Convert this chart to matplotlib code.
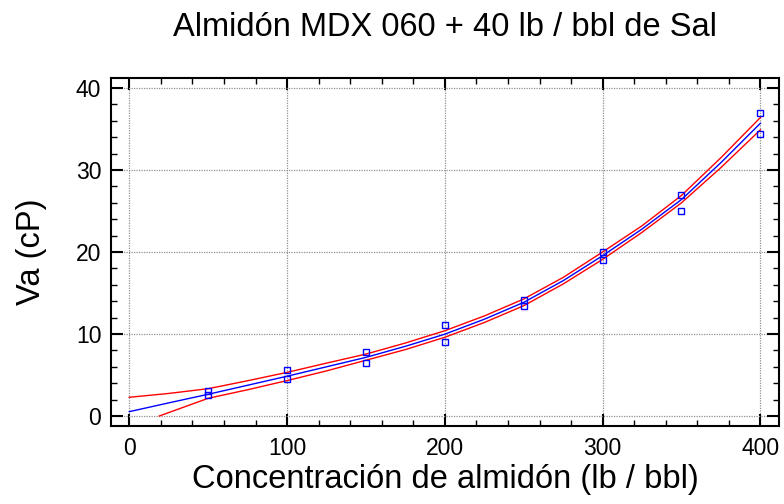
import numpy as np
import matplotlib.pyplot as plt
from matplotlib.ticker import MultipleLocator

plt.rcParams['font.family'] = ['Liberation Sans', 'DejaVu Sans']

# Measured apparent viscosity vs starch concentration
conc = [50, 50, 100, 100, 150, 150, 200, 200, 250, 250, 300, 300, 350, 350, 400, 400]
va = [3.1, 2.5, 5.6, 4.55, 7.85, 6.45, 11.05, 9.0, 14.2, 13.45, 20.0, 19.0, 27.0, 24.95, 37.0, 34.45]

# Fitted model and confidence limits
fit_x = [0, 25, 50, 75, 100, 125, 150, 175, 200, 225, 250, 275, 300, 325, 350, 375, 400]
fit_y = [0.53, 1.6, 2.65, 3.75, 4.85, 6.0, 7.15, 8.5, 9.98, 11.8, 13.86, 16.5, 19.55, 22.8, 26.4, 30.9, 35.7]
upper_y = [2.28, 2.75, 3.33, 4.3, 5.32, 6.45, 7.55, 8.9, 10.4, 12.2, 14.27, 16.9, 20.0, 23.2, 26.9, 31.5, 36.4]
lower_x = [19, 50, 75, 100, 125, 150, 175, 200, 225, 250, 275, 300, 325, 350, 375, 400]
lower_y = [0.0, 2.16, 3.2, 4.32, 5.5, 6.8, 8.1, 9.6, 11.4, 13.45, 16.1, 19.1, 22.4, 26.0, 30.3, 34.9]

fig = plt.figure(figsize=(7.84, 5.04), dpi=100)
ax = fig.add_axes([111 / 784, 1 - 426 / 504, 668 / 784, 348 / 504])

ax.plot(fit_x, upper_y, color='#ff0000', lw=1.0)
ax.plot(lower_x, lower_y, color='#ff0000', lw=1.0)
ax.plot(fit_x, fit_y, color='#0000ff', lw=1.0)
ax.plot(conc, va, linestyle='none', marker='s', ms=4, mfc='none', mec='#0000ff', mew=1.0)

ax.set_xlim(-11.6, 411.8)
ax.set_ylim(-1.22, 41.22)
ax.xaxis.set_major_locator(MultipleLocator(100))
ax.xaxis.set_minor_locator(MultipleLocator(20))
ax.yaxis.set_major_locator(MultipleLocator(10))
ax.yaxis.set_minor_locator(MultipleLocator(2))

ax.tick_params(which='both', direction='in', top=True, right=True, labelsize=16.5, color='black')
ax.tick_params(which='major', length=8.5, width=1.5)
ax.tick_params(which='minor', length=4.3, width=1.0)
ax.tick_params(axis='y', pad=7)
ax.tick_params(axis='x', pad=8)
for s in ax.spines.values():
    s.set_linewidth(1.5)

ax.grid(True, which='major', color='#909090', linestyle=(0, (1, 1)), lw=0.9)
ax.set_axisbelow(True)

ax.set_xlabel('Concentración de almidón (lb / bbl)', fontsize=23.5, labelpad=3)
ax.set_ylabel('Va (cP)', fontsize=23.5, labelpad=21)
fig.text(445 / 784, 1 - 27 / 504, 'Almidón MDX 060 + 40 lb / bbl de Sal',
         fontsize=23.5, ha='center', va='center')

plt.savefig('out.png', dpi=100)
